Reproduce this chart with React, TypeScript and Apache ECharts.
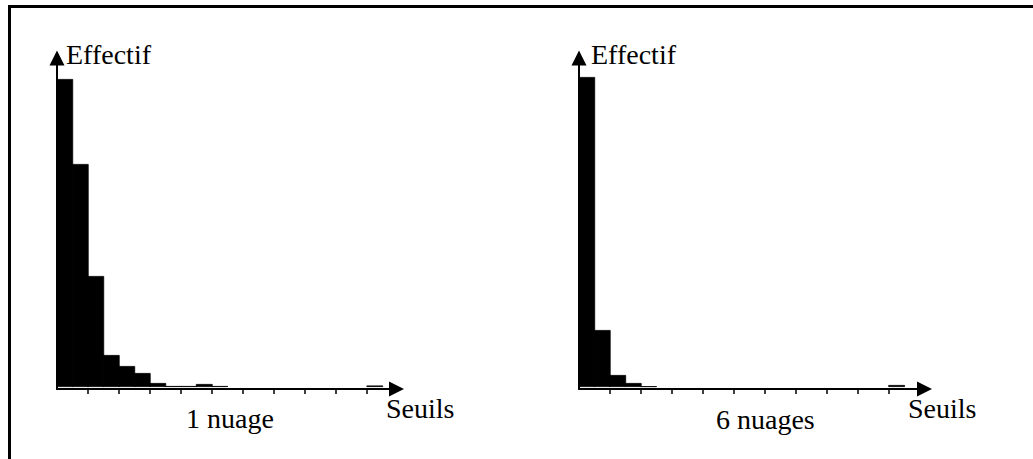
import React, { useEffect, useRef } from "react";
import * as echarts from "echarts";

// ---- data ----
const binCount = 21;
const tickValues = [2, 4, 6, 8, 10, 12, 14, 16, 18, 20];
const leftCounts = [308, 223, 111, 32, 21, 14, 4, 1, 1, 3, 1, 0, 0, 0, 0, 0, 0, 0, 0, 0, 1.5];
const rightCounts = [310, 57, 12, 4, 0.8, 0, 0, 0, 0, 0, 0, 0, 0, 0, 0, 0, 0, 0, 0, 0, 2];
const panelTitles = ["1 nuage", "6 nuages"];
const yAxisName = "Effectif";
const xAxisName = "Seuils";

const FONT_FAMILY = "'Liberation Serif', 'Times New Roman', serif";

export default function App() {
  const ref = useRef<HTMLDivElement>(null);
  useEffect(() => {
    if (!ref.current) return;
    const chart = echarts.init(ref.current, null, { renderer: "svg" });

    // empty bins are left out so that they draw nothing
    const toData = (arr: number[]) =>
      arr.slice(0, binCount).map((v, i) => [i + 0.5, v > 0 ? v : null]);

    const axisLine = {
      show: true,
      onZero: false,
      lineStyle: { color: "#000", width: 2 },
      symbol: ["none", "triangle"],
      symbolSize: [15, 15],
    };

    const mkX = (gridIndex: number, max: number) => ({
      type: "value",
      gridIndex,
      min: 0,
      max,
      axisLine,
      axisTick: {
        show: true,
        customValues: tickValues,
        length: 5,
        lineStyle: { color: "#000", width: 1.5 },
      },
      axisLabel: { show: false },
      splitLine: { show: false },
    });
    const mkY = (gridIndex: number) => ({
      type: "value",
      gridIndex,
      min: -2,
      max: 329,
      axisLine,
      axisTick: { show: false },
      axisLabel: { show: false },
      splitLine: { show: false },
    });

    const text = (t: string, x: number, y: number) => ({
      type: "text",
      x,
      y,
      style: {
        text: t,
        fontFamily: FONT_FAMILY,
        fontSize: 28,
        fill: "#000",
        verticalAlign: "middle",
        align: "left",
      },
    });

    const barStyle = { color: "#000", borderColor: "#000", borderWidth: 0.8 };

    chart.setOption({
      animation: false,
      grid: [
        { left: 57, top: 58, width: 339.5, height: 331 },
        { left: 579, top: 58, width: 345.5, height: 331 },
      ],
      xAxis: [mkX(0, 21.9), mkX(1, 22.3)],
      yAxis: [mkY(0), mkY(1)],
      series: [
        {
          type: "bar",
          xAxisIndex: 0,
          yAxisIndex: 0,
          data: toData(leftCounts),
          barWidth: "108%",
          itemStyle: barStyle,
        },
        {
          type: "bar",
          xAxisIndex: 1,
          yAxisIndex: 1,
          data: toData(rightCounts),
          barWidth: "108%",
          itemStyle: barStyle,
        },
      ],
      graphic: [
        {
          type: "rect",
          shape: { x: 9.5, y: 6.5, width: 2000, height: 2000 },
          style: { fill: "none", stroke: "#000", lineWidth: 3 },
          silent: true,
        },
        text(yAxisName, 66, 54),
        text(yAxisName, 591, 54),
        text(xAxisName, 386, 408),
        text(xAxisName, 908, 408),
        text(panelTitles[0], 186, 418),
        text(panelTitles[1], 716, 419),
      ],
    });
    return () => chart.dispose();
  }, []);

  return (
    <div
      ref={ref}
      style={{ position: "absolute", left: 0, top: 0, width: 1033, height: 459, background: "#fff" }}
    />
  );
}
